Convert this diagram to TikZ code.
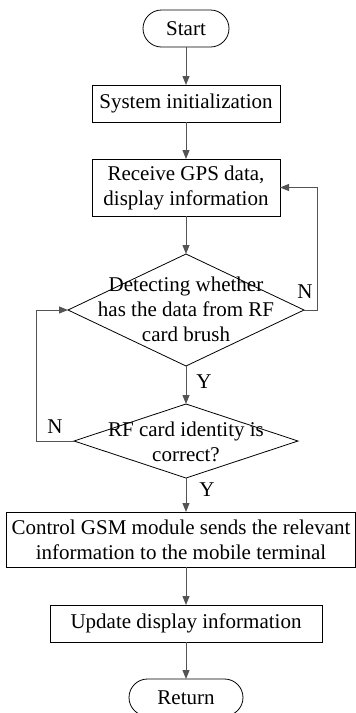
\documentclass[tikz,border=0pt]{standalone}
\usepackage{fontspec}
\setmainfont{Liberation Serif}
\usetikzlibrary{arrows.meta,shapes.geometric}
\definecolor{linecol}{rgb}{0.33,0.33,0.33}
\begin{document}
\begin{tikzpicture}[x=1pt,y=-1pt,
  font=\fontsize{21}{25}\selectfont,
  box/.style={draw,line width=0.8pt,inner sep=0pt,outer sep=0pt,align=center},
  term/.style={box,rounded corners=18.5pt,minimum height=37pt},
  dia/.style={draw,diamond,line width=0.8pt,inner sep=0pt,outer sep=0pt},
  txt/.style={inner sep=0pt,align=center},
  conn/.style={draw=linecol,line width=1pt,-{Triangle[length=9pt,width=7pt]}},
  lbl/.style={inner sep=0pt}]
\useasboundingbox (0,0) rectangle (356,713);

\node[term,minimum width=86pt] (start) at (186,28.5) {Start};
\node[box,minimum width=188pt,minimum height=37pt] (sys) at (186,103.5) {System initialization};
\node[box,minimum width=188pt,minimum height=57pt] (recv) at (186,187.5) {Receive GPS data,\\display information};
\node[dia,minimum width=236pt,minimum height=112pt] (d1) at (186,310) {};
\node[txt] (d1t) at (186,309) {Detecting whether\\has the data from RF\\card brush};
\node[dia,minimum width=224pt,minimum height=74pt] (d2) at (186,441) {};
\node[txt] (d2t) at (186,441.5) {RF card identity is\\correct?};
\node[box,minimum width=349pt,minimum height=55pt] (gsm) at (181,539.5) {Control GSM module sends the relevant\\information to the mobile terminal};
\node[box,minimum width=272pt,minimum height=37pt] (upd) at (186,623.5) {Update display information};
\node[term,minimum width=114pt] (ret) at (186,697.5) {Return};

\coordinate (rr) at (317,0);
\coordinate (ll) at (36,0);

\draw[conn] (start) -- (sys);
\draw[conn] (sys) -- (recv);
\draw[conn] (recv) -- (d1.north);
\draw[conn] (d1.south) -- (d2.north);
\draw[conn] (d2.south) -- (d2.south |- gsm.north);
\draw[conn] (upd.north |- gsm.south) -- (upd.north);
\draw[conn] (upd) -- (ret);
\draw[conn] (d1.east) -- (d1.east -| rr) |- (recv.east);
\draw[conn] (d2.west) -- (d2.west -| ll) |- (d1.west);

\node[lbl] (n1) at (305,292) {N};
\node[lbl] (y1) at (204,382) {Y};
\node[lbl] (n2) at (55,427) {N};
\node[lbl] (y2) at (207,490) {Y};
\end{tikzpicture}
\end{document}
